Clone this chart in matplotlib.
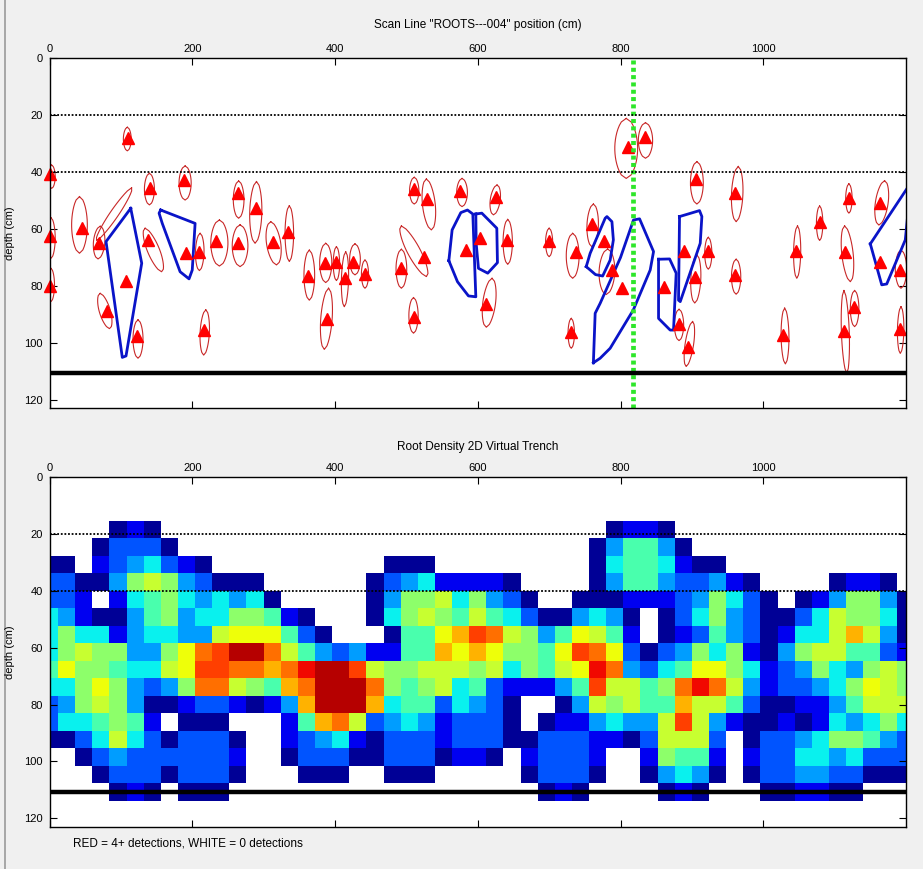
import numpy as np
import matplotlib
matplotlib.use("Agg")
import matplotlib.pyplot as plt
from matplotlib.lines import Line2D

plt.rcParams['font.family'] = ['Liberation Sans', 'DejaVu Sans']

# ---------------- data ----------------
XMAX = 1200          # scan length (cm)
DMAX = 123           # depth range (cm)
SCAN_POS = 818       # current scan position (green line)
GUIDE_DEPTHS = [20, 40]
TRENCH_BOTTOM = 110.6

# detections (red triangles): position (cm), depth (cm)
tri_x = [0, 0, 0, 46, 69, 110.5, 106.7, 80, 122, 141, 137.6, 189, 191, 210, 217, 233, 263.7, 264, 289, 313,
         334, 362.7, 388.5, 386, 401.5, 414, 425.8, 442.6, 492, 510, 528.6, 524, 510, 575.8, 583, 603, 626,
         640.8, 611, 700, 737, 730.5, 760.3, 777, 788.4, 802, 811, 833.7, 860.3, 889, 882.3, 894, 905.7,
         904.7, 922.9, 960.8, 961, 1028, 1046, 1079, 1115, 1119.6, 1127.5, 1113.5, 1163, 1164, 1192, 1192]
tri_d = [40.7, 62.3, 79.9, 59.5, 64.9, 27.9, 78.4, 88.7, 97.5, 45.6, 63.8, 42.7, 68.5, 68, 95.5, 64.3, 65,
         47.4, 52.7, 64.4, 60.9, 76.4, 91.7, 71.8, 71.4, 77.2, 71.4, 75.8, 73.7, 45.9, 49.4, 69.8, 90.8, 46.7,
         67.3, 63.2, 48.7, 63.8, 86.3, 64.2, 68, 96.3, 58.3, 64.1, 74.4, 80.8, 31, 27.5, 80.3, 67.8, 93.4,
         101.3, 42.5, 76.7, 67.8, 47.2, 76, 97.3, 67.8, 57.5, 68, 49, 87.3, 95.8, 50.7, 71.7, 74.4, 95]

# red outlines of detections: top x, bottom x, top depth, bottom depth, width (cm)
out_xt = [3, 2, 2, 42, 71, 115, 109, 71, 124, 140, 134, 190, 211, 219, 238, 267, 265, 290, 310, 336, 364,
          391, 387, 402, 415, 428, 442, 493, 511, 528, 493, 510, 578, 627, 642, 620, 700, 733, 731, 762, 782,
          808, 835, 882, 901, 907, 907, 923, 965, 962, 1030, 1048, 1079, 1114, 1120, 1128, 1113, 1170, 1193, 1193]
out_xb = [3, 2, 2, 42, 68, 66, 109, 84, 124, 140, 157, 190, 210, 216, 238, 267, 265, 288, 318, 336, 364,
          385, 387, 402, 413, 428, 442, 493, 511, 535, 528, 510, 578, 622, 642, 612, 700, 733, 731, 760, 780,
          808, 835, 882, 892, 907, 904, 923, 962, 962, 1031, 1047, 1079, 1122, 1120, 1128, 1117, 1162, 1193, 1192]
out_dt = [37.5, 56, 73.8, 48.6, 59, 45.5, 24.2, 82.6, 91.9, 40.4, 59.7, 37.8, 61.5, 88.4, 56.8, 58.5, 43.1,
          43.3, 57.4, 51.8, 67.4, 80.8, 65, 66.2, 68, 65.2, 70.9, 67.1, 41.8, 42.4, 58.9, 84.1, 42.2, 44.5,
          56.6, 77.3, 59.7, 61.5, 91.4, 51.2, 67, 21.1, 22.6, 88.2, 92.5, 36.3, 69.1, 62.9, 38, 70.6, 87.8,
          58.9, 51.9, 58.9, 44.1, 81.6, 81.6, 43, 67.4, 87.3]
out_db = [45.7, 70.3, 85.5, 68.5, 70.5, 64, 32.5, 95, 105.4, 51.5, 75, 49.8, 74.6, 104.3, 73, 73.2, 56.2,
          65, 72.6, 71.4, 85, 102.3, 78.8, 78.1, 87.3, 76.1, 80.8, 80.8, 51.2, 60.3, 76.7, 96.6, 52.1, 55,
          72.4, 94.5, 69.7, 77.3, 101.9, 66.2, 83, 42.2, 35.1, 99.2, 108.3, 51.2, 86, 74.1, 57.4, 82.9, 107.4,
          77.3, 64, 78.5, 54.4, 94.3, 110.7, 58.6, 80.8, 103.7]
out_w = [10, 12, 10, 22, 16, 14, 11, 16, 14, 14, 18, 17, 12, 13, 24, 22, 15, 17, 20, 12, 15,
         16, 17, 9, 10, 15, 10, 15, 13, 18, 20, 13, 15, 14, 13, 18, 10, 18, 9, 16, 22,
         32, 20, 13, 12, 18, 14, 10, 16, 13, 11, 10, 9, 16, 9, 12, 11, 18, 16, 9]

# blue root clusters (polygons): position (cm), depth (cm)
blue_x = [
    [113.8, 129.2, 107.2, 102, 79.2],
    [155.8, 204, 200, 195.5, 183, 158, 153.5],
    [559.5, 564.1, 576.3, 585.6, 593.1, 597.3, 587, 571.6],
    [597.3, 605.7, 626.7, 627.6, 614, 601, 597.8],
    [752, 757.5, 778.5, 781, 788, 790, 785.5, 775, 765],
    [762, 771.5, 785.5, 818, 841.6, 846.3, 826.7, 818.2, 800, 771.5, 764.5],
    [853.3, 868.8, 878, 874.3, 869.6, 853.3],
    [882.7, 910.7, 914, 911.7, 883.7, 881.3],
    [1150, 1166, 1173, 1199, 1206, 1206],
]
blue_d = [
    [52.7, 72, 104.6, 105.1, 64.4],
    [53.3, 58, 74.4, 77.5, 75, 58, 54.4],
    [71.1, 60.3, 54.2, 53.3, 54.7, 83.8, 83.5, 78.5],
    [54.7, 54.4, 59.7, 71.8, 75.5, 73.8, 65],
    [73.2, 68.5, 56.2, 55.6, 57.4, 63.8, 70.9, 76.5, 76],
    [107, 105.4, 101.9, 88.4, 74.4, 67.9, 56.4, 56.8, 70, 86.1, 89.6],
    [70.6, 70.5, 75.5, 95.5, 95.5, 91.4],
    [55.6, 53.5, 55.6, 65, 85.5, 85],
    [65.2, 79.6, 79.3, 63.8, 46, 44],
]

# root density grid: 21 depth rows x 51 position columns,
# '.' = 0 detections (white), '1'..'e' = increasing density (jet scale)
DENSITY_CODES = "123456789abcde"
DENSITY_VALUES = [0.08, 0.4, 0.84, 1.12, 1.44, 1.76, 2.08, 2.36, 2.56, 2.88, 3.16, 3.36, 3.6, 3.8]
density_rows = [
    ".......... .......... .......... .......... .......... .",
    ".......... .......... .......... .......... .......... .",
    ".......... .......... .......... .......... .......... .",
    "....121... .......... .......... ...1221... .......... .",
    "...13331.. .......... .......... ..146641.. .......... .",
    "11.2345321 .......... 111....... ..15665211 .......... .",
    "3311478743 111......1 34522221.. ..14664334 21....1221 .",
    "332.256754 5451.....1 477857431. .111222347 531.124774 1",
    "5421146745 577621...1 5787686531 14541.1357 4311358775 1",
    "5755245544 8999631... 1669acb874 69862.1236 4312558a84 1",
    "578774479b ceeb864342 266a9a9776 9cb9313475 7214788663 2",
    "697765589c cbbabdeec8 7788878576 89db435699 7523475478 7",
    "557974347b b876abeeeb 7678563222 46c8867bdb 8423345798 7",
    "3478741123 32124aeeea 56635431.. 1487866a88 6311224688 8",
    "3556762.11 1...26ab83 45423331.1 2245448c84 2112125457 5",
    "1135853133 31..234521 3332333113 3322138883 .133457764 3",
    "..13433333 32..133311 3331221.23 332..27662 .233554533 3",
    "...1333133 31...111.. 111.....13 331..14541 .133443311 1",
    "....121.11 1......... .........1 21....121. ..112211.. .",
    ".......... .......... .......... .......... .......... .",
    ".......... .......... .......... .......... .......... .",
]

# ---------------- build grid ----------------
n_cols = 51
grid = np.full((len(density_rows), n_cols), np.nan)
for i, row in enumerate(density_rows):
    row = row.replace(" ", "")
    for j, ch in enumerate(row[:n_cols]):
        if ch in DENSITY_CODES:
            grid[i, j] = DENSITY_VALUES[DENSITY_CODES.index(ch)]
grid = np.ma.masked_invalid(grid)
xc = np.linspace(0, XMAX, n_cols)
dc = np.linspace(0, DMAX, len(density_rows))


def outline(xt, xb, dt, db, w, n=18):
    s = np.linspace(0, 1, n)
    x = xt + (xb - xt) * s
    d = dt + (db - dt) * s
    hw = w / 2 * np.sqrt(np.sin(np.pi * s))
    return np.concatenate([x - hw, (x + hw)[::-1], [x[0]]]), np.concatenate([d, d[::-1], [d[0]]])


# ---------------- figure ----------------
W, H = 923, 869
fig = plt.figure(figsize=(W / 100, H / 100), dpi=100, facecolor='#f0f0f0')
left_px, right_px = 49.5, 906
ax1 = fig.add_axes([left_px / W, 1 - 408.3 / H, (right_px - left_px) / W, (408.3 - 58.4) / H])
ax2 = fig.add_axes([left_px / W, 1 - 826.8 / H, (right_px - left_px) / W, (826.8 - 477.1) / H])

cmap = plt.get_cmap('jet').copy()
cmap.set_bad('white')
ax2.pcolormesh(xc, dc, grid, cmap=cmap, vmin=0, vmax=4, shading='nearest')

# top panel: outlines, clusters, detections
for xt, xb, dt, db, w in zip(out_xt, out_xb, out_dt, out_db, out_w):
    px, pd = outline(xt, xb, dt, db, w)
    ax1.plot(px, pd, color='#c82828', lw=0.8)
for bx, bd in zip(blue_x, blue_d):
    ax1.plot(list(bx) + [bx[0]], list(bd) + [bd[0]], color='#0a14c8', lw=2.0, solid_joinstyle='round')
ax1.plot(tri_x, tri_d, ls='none', marker='^', ms=8.5, color='#ff0000', mec='#ff0000', clip_on=False)
ax1.axvline(SCAN_POS, color='#2ee62a', lw=3.4, ls=(0, (0.85, 0.7)))

for ax in (ax1, ax2):
    for gd in GUIDE_DEPTHS:
        ax.axhline(gd, color='black', lw=1.3, ls=(0, (1, 1)))
    ax.axhline(TRENCH_BOTTOM, color='black', lw=3.2)
    ax.set_xlim(0, XMAX)
    ax.set_ylim(DMAX, 0)
    ax.set_facecolor('white')
    ax.set_xticks([0, 200, 400, 600, 800, 1000])
    ax.set_yticks([0, 20, 40, 60, 80, 100, 120])
    ax.xaxis.tick_top()
    ax.tick_params(which='both', direction='in', top=True, bottom=True, left=True, right=True,
                   labeltop=True, labelbottom=False, length=5, width=0.8, labelsize=8, colors='black')
    ax.tick_params(axis='x', pad=3)
    ax.tick_params(axis='y', pad=5)
    for sp in ax.spines.values():
        sp.set_linewidth(1.0)
        sp.set_color('black')

fig.text(477.7 / W, 1 - 25 / H, 'Scan Line "ROOTS---004" position (cm)', ha='center', va='center', fontsize=8.5)
fig.text(477.7 / W, 1 - 447 / H, 'Root Density 2D Virtual Trench', ha='center', va='center', fontsize=8.5)
fig.text(10 / W, 1 - 233 / H, 'depth (cm)', rotation=90, ha='center', va='center', fontsize=8)
fig.text(10 / W, 1 - 652 / H, 'depth (cm)', rotation=90, ha='center', va='center', fontsize=8)
fig.text(72.7 / W, 1 - 844 / H, 'RED = 4+ detections, WHITE = 0 detections', ha='left', va='center', fontsize=8.5)
fig.add_artist(Line2D([5 / W, 5 / W], [0, 1], color='#9a9a9a', lw=1.2))

fig.savefig('out.png', dpi=100, facecolor=fig.get_facecolor())
